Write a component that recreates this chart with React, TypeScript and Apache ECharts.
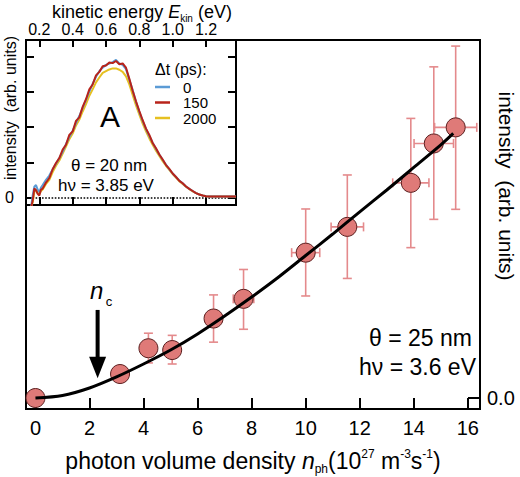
import React, { useEffect, useRef } from "react";
import * as echarts from "echarts";

const FONT = '"Liberation Sans", Arial, Helvetica, sans-serif';

// ---- main panel data (photon density in 1e27 m^-3 s^-1, intensity in arb. units) ----
const photonDensity = [0, 3.13, 4.18, 5.06, 6.59, 7.7, 10.0, 11.54, 13.89, 14.74, 15.55];
const intensity = [0, 0.67, 1.39, 1.34, 2.22, 2.77, 4.06, 4.78, 6.01, 7.11, 7.56];
const intensityLow = [null, null, 0.98, 0.95, 1.56, 1.92, 2.85, 3.34, 4.2, 4.99, 5.27];
const intensityHigh = [null, null, 1.81, 1.75, 2.88, 3.59, 5.28, 6.23, 7.81, 9.25, 9.83];
const densityErr = [0, 0, 0, 0, 0.3, 0.38, 0.52, 0.6, 0.67, 0.73, 0.78];

const fitDensity = [0, 1, 2, 3, 4, 5, 6, 7, 8, 9, 10, 11, 12, 13, 14, 15, 15.46];
const fitIntensity = [0, 0.07, 0.28, 0.59, 0.95, 1.34, 1.79, 2.29, 2.82, 3.38, 3.98, 4.58, 5.2, 5.81, 6.44, 7.07, 7.39];

const densityTicks = [0, 2, 4, 6, 8, 10, 12, 14, 16];
const ncDensity = 2.3;

// ---- inset data (kinetic energy in eV, intensity in arb. units) ----
const energy = [
  0.15, 0.16, 0.17, 0.18, 0.19, 0.2, 0.21, 0.22, 0.24, 0.26, 0.28, 0.3, 0.32, 0.34, 0.36, 0.38, 0.4,
  0.42, 0.44, 0.46, 0.48, 0.5, 0.52, 0.54, 0.56, 0.58, 0.6, 0.62, 0.64, 0.66, 0.68, 0.7, 0.72, 0.74,
  0.76, 0.78, 0.8, 0.82, 0.84, 0.86, 0.88, 0.9, 0.92, 0.94, 0.96, 0.98, 1.0, 1.02, 1.04, 1.06, 1.08,
  1.1, 1.12, 1.14, 1.16, 1.18, 1.2, 1.22, 1.26, 1.3, 1.38,
];
const spectrum0 = [
  -0.3, 0.05, 0.3, 0.35, 0.22, 0.15, 0.28, 0.35, 0.5, 0.62, 0.8, 0.96, 1.12, 1.3, 1.52, 1.72, 1.9,
  2.12, 2.32, 2.55, 2.78, 3.02, 3.24, 3.44, 3.6, 3.7, 3.78, 3.82, 3.86, 3.92, 3.82, 3.78, 3.66, 3.36,
  3.06, 2.72, 2.44, 2.18, 1.95, 1.75, 1.56, 1.38, 1.22, 1.07, 0.93, 0.8, 0.68, 0.58, 0.48, 0.4, 0.31,
  0.24, 0.18, 0.12, 0.08, 0.05, 0.03, 0.02, 0.02, 0.02, 0.02,
];
const spectrum150 = [
  -0.3, -0.1, 0.25, 0.2, 0.1, 0.05, 0.22, 0.25, 0.42, 0.55, 0.8, 0.98, 1.12, 1.36, 1.5, 1.78, 1.88,
  2.18, 2.28, 2.58, 2.8, 3.08, 3.22, 3.48, 3.58, 3.74, 3.76, 3.85, 3.83, 3.89, 3.8, 3.82, 3.7, 3.38,
  3.04, 2.74, 2.46, 2.2, 1.96, 1.78, 1.55, 1.4, 1.22, 1.08, 0.92, 0.81, 0.68, 0.58, 0.47, 0.4, 0.31,
  0.24, 0.18, 0.12, 0.08, 0.05, 0.03, 0.02, 0.02, 0.02, 0.02,
];
const spectrum2000 = [
  -0.3, -0.15, 0.15, 0.22, 0.12, 0.1, 0.18, 0.22, 0.38, 0.5, 0.72, 0.9, 1.05, 1.25, 1.45, 1.66, 1.82,
  2.05, 2.22, 2.45, 2.66, 2.9, 3.08, 3.28, 3.42, 3.55, 3.6, 3.65, 3.68, 3.68, 3.64, 3.58, 3.45, 3.22,
  2.92, 2.62, 2.36, 2.1, 1.88, 1.68, 1.5, 1.33, 1.18, 1.03, 0.9, 0.78, 0.66, 0.56, 0.46, 0.38, 0.3,
  0.23, 0.17, 0.12, 0.08, 0.05, 0.03, 0.02, 0.02, 0.02, 0.02,
];
const energyTicks = [0.2, 0.4, 0.6, 0.8, 1.0, 1.2];
const spectrumTicks = [0, 1, 2, 3, 4];
const delayLabels = ["0", "150", "2000"];
const delayColors = ["#5b9bd5", "#b8231a", "#e6c021"];

const zip = (xs: number[], ys: (number | null)[]) => xs.map((x, i) => [x, ys[i]]);

export default function App() {
  const ref = useRef<HTMLDivElement>(null);

  useEffect(() => {
    if (!ref.current) return;
    const chart = echarts.init(ref.current, undefined, { renderer: "svg" });

    const errData = photonDensity
      .map((x, i) => [x, intensity[i], intensityLow[i], intensityHigh[i], densityErr[i]])
      .filter((d) => d[2] !== null);

    const axisLineStyle = { color: "#000", width: 2 };
    const spectra = [spectrum0, spectrum150, spectrum2000];

    const option: any = {
      animation: false,
      backgroundColor: "#fff",
      grid: [
        { left: 26, top: 40, right: 40, bottom: 68, show: true, borderColor: "#000", borderWidth: 2, backgroundColor: "transparent" },
        { left: 26, top: 40, right: 284, bottom: 272, show: true, borderColor: "#000", borderWidth: 2, backgroundColor: "#fff", z: 5 },
      ],
      xAxis: [
        {
          type: "value", gridIndex: 0, position: "bottom", min: -0.35, max: 16.45,
          axisLine: { show: true, onZero: false, lineStyle: axisLineStyle },
          axisTick: { show: true, inside: true, length: 11, customValues: densityTicks, lineStyle: axisLineStyle },
          axisLabel: { customValues: densityTicks, fontSize: 20, color: "#000", margin: 9, fontFamily: FONT },
          splitLine: { show: false },
        },
        {
          type: "value", gridIndex: 1, position: "top", min: 0.12, max: 1.38, z: 6,
          axisLine: { show: true, onZero: false, lineStyle: axisLineStyle },
          axisTick: { show: true, inside: true, length: 7, customValues: energyTicks, lineStyle: axisLineStyle },
          axisLabel: { customValues: energyTicks, fontSize: 16, color: "#000", margin: 3, fontFamily: FONT, formatter: (v: number) => v.toFixed(1) },
          splitLine: { show: false },
        },
        {
          type: "value", gridIndex: 1, position: "bottom", min: 0.12, max: 1.38, z: 6,
          axisLine: { show: true, onZero: false, lineStyle: axisLineStyle },
          axisTick: { show: true, inside: true, length: 8, customValues: energyTicks, lineStyle: axisLineStyle },
          axisLabel: { show: false },
          splitLine: { show: false },
        },
      ],
      yAxis: [
        {
          type: "value", gridIndex: 0, position: "right", min: -0.307, max: 10,
          axisLine: { show: true, onZero: false, lineStyle: axisLineStyle },
          axisTick: { show: true, inside: true, length: 12, customValues: [0], lineStyle: axisLineStyle },
          axisLabel: { customValues: [0], fontSize: 20, color: "#000", margin: 7, fontFamily: FONT, formatter: (v: number) => v.toFixed(1) },
          splitLine: { show: false },
        },
        {
          type: "value", gridIndex: 1, position: "left", min: -0.22, max: 4.49, z: 6,
          axisLine: { show: true, onZero: false, lineStyle: axisLineStyle },
          axisTick: { show: true, inside: true, length: 8, customValues: spectrumTicks, lineStyle: axisLineStyle },
          axisLabel: { customValues: [0], fontSize: 16, color: "#000", margin: 12, fontFamily: FONT },
          splitLine: { show: false },
        },
        {
          type: "value", gridIndex: 1, position: "right", min: -0.22, max: 4.49, z: 6,
          axisLine: { show: true, onZero: false, lineStyle: axisLineStyle },
          axisTick: { show: true, inside: true, length: 8, customValues: spectrumTicks, lineStyle: axisLineStyle },
          axisLabel: { show: false },
          splitLine: { show: false },
        },
      ],
      series: [
        {
          type: "custom", xAxisIndex: 0, yAxisIndex: 0, z: 2,
          data: errData,
          encode: { x: 0, y: 1 },
          renderItem: (_p: any, api: any) => {
            const x = api.value(0), y = api.value(1), lo = api.value(2), hi = api.value(3), xe = api.value(4);
            const style = { stroke: "#e48a8c", lineWidth: 1.6 };
            const a = api.coord([x, lo]);
            const b = api.coord([x, hi]);
            const cap = 4.5;
            const children: any[] = [
              { type: "line", shape: { x1: a[0], y1: a[1], x2: b[0], y2: b[1] }, style },
              { type: "line", shape: { x1: a[0] - cap, y1: a[1], x2: a[0] + cap, y2: a[1] }, style },
              { type: "line", shape: { x1: b[0] - cap, y1: b[1], x2: b[0] + cap, y2: b[1] }, style },
            ];
            if (xe > 0) {
              const l = api.coord([x - xe, y]);
              const r = api.coord([x + xe, y]);
              children.push(
                { type: "line", shape: { x1: l[0], y1: l[1], x2: r[0], y2: r[1] }, style },
                { type: "line", shape: { x1: l[0], y1: l[1] - cap, x2: l[0], y2: l[1] + cap }, style },
                { type: "line", shape: { x1: r[0], y1: r[1] - cap, x2: r[0], y2: r[1] + cap }, style }
              );
            }
            return { type: "group", children };
          },
        },
        {
          type: "scatter", xAxisIndex: 0, yAxisIndex: 0, z: 3,
          data: zip(photonDensity, intensity),
          symbol: "circle", symbolSize: 19,
          itemStyle: { color: "#df7a78", borderColor: "#5a1e1e", borderWidth: 1, opacity: 1 },
        },
        {
          type: "line", xAxisIndex: 0, yAxisIndex: 0, z: 4,
          data: zip(fitDensity, fitIntensity),
          smooth: 0.3, showSymbol: false, symbol: "none",
          lineStyle: { color: "#000", width: 3 },
        },
        ...[2, 0, 1].map((k) => ({
          name: delayLabels[k],
          type: "line", xAxisIndex: 1, yAxisIndex: 1, z: 7,
          data: zip(energy, spectra[k]),
          showSymbol: false, symbol: "none", clip: true,
          lineStyle: { color: delayColors[k], width: 2 },
          ...(k === 1
            ? {
                markLine: {
                  silent: true, symbol: ["none", "none"], label: { show: false },
                  lineStyle: { type: "dotted", color: "#000", width: 1.6 },
                  data: [{ yAxis: 0 }],
                },
              }
            : {}),
        })),
      ],
    };

    chart.setOption(option);

    const top = chart.convertToPixel({ xAxisIndex: 0, yAxisIndex: 0 } as any, [ncDensity, 2.46]) as number[];
    const headBase = chart.convertToPixel({ xAxisIndex: 0, yAxisIndex: 0 } as any, [ncDensity, 1.15]) as number[];
    const tip = chart.convertToPixel({ xAxisIndex: 0, yAxisIndex: 0 } as any, [ncDensity, 0.55]) as number[];
    const ax = top[0];

    const txt = (x: number, y: number, text: string, fontSize: number, extra: any = {}, el: any = {}) => ({
      type: "text", x, y, z: 100, ...el,
      style: { text, fill: "#000", fontSize, fontFamily: FONT, align: "center", verticalAlign: "middle", ...extra },
    });

    const legend: any[] = [txt(155, 69, "\u0394t (ps):", 16, { align: "left" })];
    [0, 1, 2].forEach((k, i) => {
      const y = 87 + i * 15.5;
      legend.push({ type: "line", z: 100, shape: { x1: 155, y1: y, x2: 170, y2: y }, style: { stroke: delayColors[k], lineWidth: 2.5 } });
      legend.push(txt(183, y, delayLabels[k], 15, { align: "left", lineHeight: 15 }));
    });

    chart.setOption({
      graphic: [
        // inset title
        txt(142, 12, "{n|kinetic energy }{i|E}{s|kin}{n| (eV)}", 18, {
          rich: {
            n: { fontSize: 18, fontFamily: FONT, fill: "#000", lineHeight: 22 },
            i: { fontSize: 18, fontFamily: FONT, fill: "#000", fontStyle: "italic", lineHeight: 22 },
            s: { fontSize: 10, fontFamily: FONT, fill: "#000", verticalAlign: "bottom", lineHeight: 12 },
          },
        }),
        txt(10, 108, "intensity  (arb. units)", 16, {}, { rotation: Math.PI / 2 }),
        txt(110, 116, "A", 30),
        txt(109, 165, "\u03b8 = 20 nm", 17),
        txt(106, 185, "h\u03bd = 3.85 eV", 17),
        ...legend,
        // main annotations
        txt(472, 338, "\u03b8 = 25 nm", 23, { align: "right" }),
        txt(476, 367, "h\u03bd = 3.6 eV", 23, { align: "right" }),
        txt(506, 186, "intensity  (arb. units)", 21, {}, { rotation: -Math.PI / 2 }),
        txt(253, 461, "{n|photon volume density }{i|n}{s|ph}{n|(10}{p|27}{n| m}{p|-3}{n|s}{p|-1}{n|)}", 23, {
          rich: {
            n: { fontSize: 23, fontFamily: FONT, fill: "#000", lineHeight: 27 },
            i: { fontSize: 23, fontFamily: FONT, fill: "#000", fontStyle: "italic", lineHeight: 27 },
            s: { fontSize: 12, fontFamily: FONT, fill: "#000", verticalAlign: "bottom", lineHeight: 13 },
            p: { fontSize: 12, fontFamily: FONT, fill: "#000", verticalAlign: "top", lineHeight: 13 },
          },
        }),
        // n_c arrow
        { type: "rect", z: 100, shape: { x: ax - 2, y: top[1], width: 4, height: headBase[1] - top[1] + 1 }, style: { fill: "#000" } },
        { type: "polygon", z: 100, shape: { points: [[ax - 8.5, headBase[1]], [ax + 8.5, headBase[1]], [ax, tip[1]]] }, style: { fill: "#000" } },
        txt(ax - 1, top[1] - 19, "n", 24, { fontStyle: "italic" }),
        txt(ax + 11.5, top[1] - 8, "c", 13),
      ],
    });

    return () => chart.dispose();
  }, []);

  return <div ref={ref} style={{ position: "fixed", left: 0, top: 0, width: 520, height: 477 }} />;
}
